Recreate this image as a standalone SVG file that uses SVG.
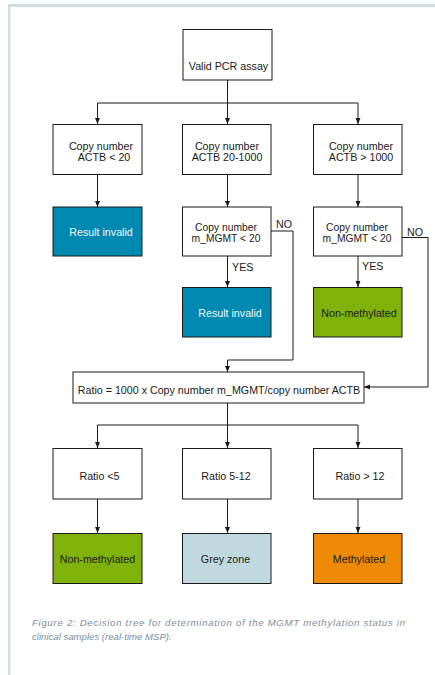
<svg xmlns="http://www.w3.org/2000/svg" width="435" height="675" viewBox="0 0 435 675">
<style>
.box{stroke:#1a1a1a;stroke-width:1;fill:#fff}
.t{font-family:"Liberation Sans",Arial,sans-serif;font-size:10.7px;fill:#1a1a1a;text-anchor:middle}
.s{font-size:10.3px}
.w{fill:#f0f6f8}
.c{stroke:#1a1a1a;stroke-width:1;fill:none}
.lbl{font-family:"Liberation Sans",Arial,sans-serif;font-size:10.7px;fill:#1a1a1a}
.cap{font-family:"Liberation Sans",Arial,sans-serif;font-size:9.6px;font-style:italic;fill:#7d8d9b}
</style>
<defs>
<marker id="ah" viewBox="0 0 6 6" refX="6" refY="3" markerWidth="6" markerHeight="6" orient="auto" markerUnits="userSpaceOnUse">
<path d="M0,0.5 L6,3 L0,5.5 Z" fill="#1a1a1a"/>
</marker>
</defs>
<rect x="0" y="0" width="435" height="675" fill="#fff"/>
<rect x="8" y="4" width="427" height="3" fill="#d3dde5"/>
<rect x="8" y="4" width="2.5" height="671" fill="#d3dde5"/>

<g id="connectors">
<path class="c" d="M227.5,80 V103"/>
<path class="c" d="M97.5,103 H358"/>
<path class="c" d="M97.5,103 V124" marker-end="url(#ah)"/>
<path class="c" d="M227.5,103 V124" marker-end="url(#ah)"/>
<path class="c" d="M358,103 V124" marker-end="url(#ah)"/>
<path class="c" d="M97.5,174 V207" marker-end="url(#ah)"/>
<path class="c" d="M227.5,174 V207" marker-end="url(#ah)"/>
<path class="c" d="M358,174 V207" marker-end="url(#ah)"/>
<path class="c" d="M227.5,256 V287" marker-end="url(#ah)"/>
<path class="c" d="M358,256 V287" marker-end="url(#ah)"/>
<path class="c" d="M271,231 H293 V360 H227.5 V372" marker-end="url(#ah)"/>
<path class="c" d="M402,237.5 H428 V387 H364" marker-end="url(#ah)"/>
<path class="c" d="M227.5,403 V425"/>
<path class="c" d="M97.5,425 H358"/>
<path class="c" d="M97.5,425 V448" marker-end="url(#ah)"/>
<path class="c" d="M227.5,425 V448" marker-end="url(#ah)"/>
<path class="c" d="M358,425 V448" marker-end="url(#ah)"/>
<path class="c" d="M97.5,499 V533" marker-end="url(#ah)"/>
<path class="c" d="M227.5,499 V533" marker-end="url(#ah)"/>
<path class="c" d="M358,499 V533" marker-end="url(#ah)"/>
<text class="lbl" x="276" y="228">NO</text>
<text class="lbl" x="407" y="236">NO</text>
<text class="lbl" x="232" y="271">YES</text>
<text class="lbl" x="362" y="270">YES</text>
</g>

<g id="n-valid"><rect class="box" x="183" y="29.5" width="89" height="50.5"/><text class="t" x="228.5" y="70">Valid PCR assay</text></g>

<g id="n-actb-low"><rect class="box" x="53" y="124.5" width="89" height="50"/><text class="t" x="101" y="149.5">Copy number</text><text class="t" x="104" y="161">ACTB &lt; 20</text></g>
<g id="n-actb-mid"><rect class="box" x="182.5" y="124.5" width="88.5" height="50"/><text class="t" x="227" y="149.5">Copy number</text><text class="t" x="227" y="161">ACTB 20-1000</text></g>
<g id="n-actb-high"><rect class="box" x="313.5" y="124.5" width="88.5" height="50"/><text class="t" x="361" y="149.5">Copy number</text><text class="t" x="361" y="161">ACTB &gt; 1000</text></g>

<g id="n-invalid1"><rect class="box" x="53" y="207" width="89" height="49" style="fill:#0089b0"/><text class="t w" x="101" y="236">Result invalid</text></g>
<g id="n-mgmt-mid"><rect class="box" x="182.5" y="207" width="88.5" height="49"/><text class="t s" x="226" y="231">Copy number</text><text class="t s" x="226" y="242">m_MGMT &lt; 20</text></g>
<g id="n-mgmt-high"><rect class="box" x="313.5" y="207" width="88.5" height="49"/><text class="t s" x="357" y="231">Copy number</text><text class="t s" x="357" y="242">m_MGMT &lt; 20</text></g>

<g id="n-invalid2"><rect class="box" x="182.5" y="287.5" width="88.5" height="49.5" style="fill:#0089b0"/><text class="t w" x="230" y="317">Result invalid</text></g>
<g id="n-nonmeth1"><rect class="box" x="313.5" y="287.5" width="88.5" height="49.5" style="fill:#7fb20a"/><text class="t" x="359" y="317">Non-methylated</text></g>

<g id="n-ratio"><rect class="box" x="73" y="372" width="291" height="31"/><text class="t" x="219" y="394">Ratio = 1000 x Copy number m_MGMT/copy number ACTB</text></g>

<g id="n-r1"><rect class="box" x="53" y="448.5" width="89" height="50.5"/><text class="t" x="99.5" y="479.5">Ratio &lt;5</text></g>
<g id="n-r2"><rect class="box" x="182.5" y="448.5" width="88.5" height="50.5"/><text class="t" x="226" y="479.5">Ratio 5-12</text></g>
<g id="n-r3"><rect class="box" x="313.5" y="448.5" width="88.5" height="50.5"/><text class="t" x="360" y="479.5">Ratio &gt; 12</text></g>

<g id="n-nonmeth2"><rect class="box" x="53" y="533.5" width="89" height="50" style="fill:#7fb20a"/><text class="t" x="97.5" y="563">Non-methylated</text></g>
<g id="n-grey"><rect class="box" x="182.5" y="533.5" width="88.5" height="50" style="fill:#c0d9df"/><text class="t" x="225.5" y="563">Grey zone</text></g>
<g id="n-meth"><rect class="box" x="313.5" y="533.5" width="88.5" height="50" style="fill:#ef8a07"/><text class="t" x="359" y="563">Methylated</text></g>

<text class="cap" x="32" y="625.5" textLength="373" lengthAdjust="spacing">Figure 2: Decision tree for determination of the MGMT methylation status in</text>
<text class="cap" x="32" y="639.5">clinical samples (real-time MSP).</text>
</svg>
